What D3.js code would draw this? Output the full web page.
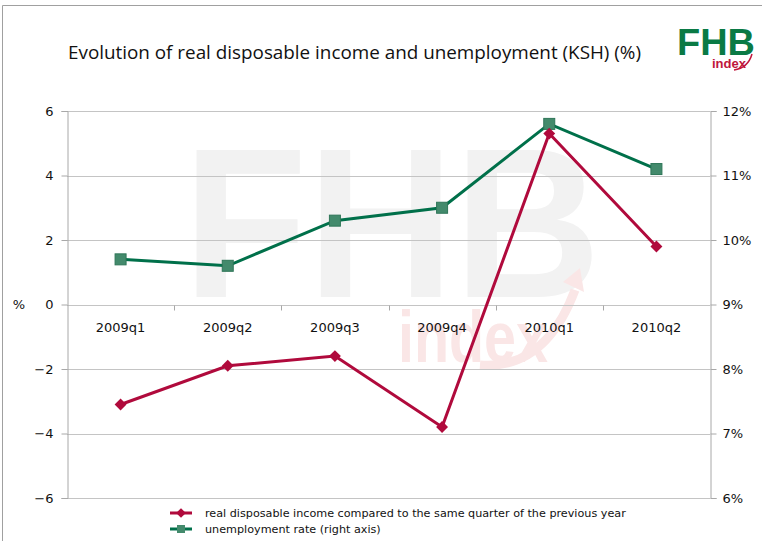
<!DOCTYPE html>
<html>
<head>
<meta charset="utf-8">
<script src="https://cdn.jsdelivr.net/npm/d3@7"></script>
<style>
  body { margin: 0; background: #fff; }
  svg { display: block; }
</style>
</head>
<body>
<svg id="chart" width="762" height="541"></svg>
<script>
// data
const categories = ["2009q1", "2009q2", "2009q3", "2009q4", "2010q1", "2010q2"];
const incomeValues = [-3.1, -1.9, -1.6, -3.8, 5.3, 1.8];        // left axis, %
const unemploymentValues = [9.7, 9.6, 10.3, 10.5, 11.8, 11.1]; // right axis, %
const leftTicks = [-6, -4, -2, 0, 2, 4, 6];
const rightTicks = [6, 7, 8, 9, 10, 11, 12];
const legendLabels = [
  "real disposable income compared to the same quarter of the previous year",
  "unemployment rate (right axis)"
];

const red = "#b00a3c";
const green = "#00704a";
const greenFill = "#438a6c";
const grid = "#c4c4c4";

const svg = d3.select("#chart");
const plotLeft = 67, plotRight = 710, plotTop = 111, plotBottom = 498;

const x = d3.scaleBand().domain(categories).range([plotLeft, plotRight]);
const yL = d3.scaleLinear().domain([-6, 6]).range([plotBottom, plotTop]);
const yR = d3.scaleLinear().domain([6, 12]).range([plotBottom, plotTop]);

// outer frame
svg.append("path")
  .attr("d", "M2.5,541 V5.5 H762")
  .attr("fill", "none").attr("stroke", "#a0a0a0").attr("stroke-width", 1);

// watermark
const wm = svg.append("g");
wm.append("text")
  .attr("x", 392).attr("y", 297)
  .attr("text-anchor", "middle")
  .attr("font-family", "Liberation Sans, Arial, sans-serif")
  .attr("font-weight", "bold")
  .attr("font-size", 214)
  .attr("textLength", 418).attr("lengthAdjust", "spacingAndGlyphs")
  .attr("fill", "#f2f2f2")
  .text("FHB");
wm.append("text")
  .attr("x", 398).attr("y", 362)
  .attr("font-family", "Liberation Sans, Arial, sans-serif")
  .attr("font-weight", "bold")
  .attr("font-size", 72)
  .attr("textLength", 150).attr("lengthAdjust", "spacingAndGlyphs")
  .attr("fill", "#fae6e6")
  .text("index");
wm.append("path")
  .attr("d", "M480,365 Q545,370 575,290")
  .attr("fill", "none").attr("stroke", "#fae6e6").attr("stroke-width", 9);
wm.append("path")
  .attr("d", "M563,282 L580,268 L584,292 Z")
  .attr("fill", "#fae6e6");

// horizontal gridlines
svg.append("g").selectAll("line")
  .data(leftTicks)
  .join("line")
  .attr("x1", plotLeft).attr("x2", plotRight)
  .attr("y1", d => Math.round(yL(d)) + 0.5).attr("y2", d => Math.round(yL(d)) + 0.5)
  .attr("stroke", grid).attr("stroke-width", 1.2);

// left axis
const gL = svg.append("g")
  .attr("transform", `translate(${plotLeft + 0.5},0)`)
  .call(d3.axisLeft(yL).tickValues(leftTicks).tickSize(6).tickPadding(8)
    .tickFormat(d => d < 0 ? "\u2212" + Math.abs(d) : d));
gL.select(".domain").attr("stroke", "#a8a8a8");
gL.selectAll(".tick line").attr("stroke", "#a8a8a8");
gL.selectAll(".tick text").attr("font-family", "DejaVu Sans, Verdana, sans-serif")
  .attr("font-size", 13).attr("fill", "#111");

// right axis
const gR = svg.append("g")
  .attr("transform", `translate(${plotRight + 0.5},0)`)
  .call(d3.axisRight(yR).tickValues(rightTicks).tickSize(6).tickPadding(6)
    .tickFormat(d => d + "%"));
gR.select(".domain").attr("stroke", "#a8a8a8");
gR.selectAll(".tick line").attr("stroke", "#a8a8a8");
gR.selectAll(".tick text").attr("font-family", "DejaVu Sans, Verdana, sans-serif")
  .attr("font-size", 13).attr("fill", "#111");

// category axis at zero
const gX = svg.append("g")
  .attr("transform", `translate(0,${Math.round(yL(0)) + 0.5})`)
  .call(d3.axisBottom(x).tickSize(0).tickPadding(17));
gX.select(".domain").remove();
gX.selectAll(".tick text").attr("font-family", "DejaVu Sans, Verdana, sans-serif")
  .attr("font-size", 13).attr("fill", "#111");
gX.selectAll(".sep")
  .data(categories.slice(1))
  .join("line")
  .attr("class", "sep")
  .attr("x1", d => Math.round(x(d)) + 0.5).attr("x2", d => Math.round(x(d)) + 0.5)
  .attr("y1", 0).attr("y2", 5)
  .attr("stroke", "#a8a8a8");

// "%" axis label
svg.append("text")
  .attr("x", 19).attr("y", yL(0)).attr("dy", "0.35em")
  .attr("text-anchor", "middle")
  .attr("font-family", "DejaVu Sans, Verdana, sans-serif")
  .attr("font-size", 13).attr("fill", "#111")
  .text("%");

const cx = d => x(d) + x.bandwidth() / 2;

// unemployment line
svg.append("path")
  .datum(unemploymentValues)
  .attr("fill", "none").attr("stroke", green).attr("stroke-width", 3)
  .attr("d", d3.line().x((d, i) => cx(categories[i])).y(d => yR(d)));

// income line
svg.append("path")
  .datum(incomeValues)
  .attr("fill", "none").attr("stroke", red).attr("stroke-width", 3)
  .attr("d", d3.line().x((d, i) => cx(categories[i])).y(d => yL(d)));

// unemployment markers
svg.append("g").selectAll("rect")
  .data(unemploymentValues)
  .join("rect")
  .attr("x", (d, i) => cx(categories[i]) - 5.5)
  .attr("y", d => yR(d) - 5.5)
  .attr("width", 11).attr("height", 11)
  .attr("fill", greenFill).attr("stroke", "#2f7658").attr("stroke-width", 1);

// income markers
const diamond = d3.symbol().type(d3.symbolDiamond2).size(90);
svg.append("g").selectAll("path")
  .data(incomeValues)
  .join("path")
  .attr("transform", (d, i) => `translate(${cx(categories[i])},${yL(d)})`)
  .attr("d", diamond)
  .attr("fill", red);

// title
svg.append("text")
  .attr("x", 68).attr("y", 59)
  .attr("font-family", "Liberation Sans Narrow, Open Sans, sans-serif")
  .attr("font-size", 19).attr("fill", "#111")
  .attr("textLength", 573).attr("lengthAdjust", "spacingAndGlyphs")
  .text("Evolution of real disposable income and unemployment (KSH) (%)");

// logo
svg.append("text")
  .attr("x", 677).attr("y", 55)
  .attr("font-family", "Liberation Sans, Arial, sans-serif")
  .attr("font-weight", "bold").attr("font-size", 36)
  .attr("textLength", 78).attr("lengthAdjust", "spacingAndGlyphs")
  .attr("fill", "#0a7a45")
  .text("FHB");
svg.append("text")
  .attr("x", 712).attr("y", 68)
  .attr("font-family", "Liberation Sans, Arial, sans-serif")
  .attr("font-weight", "bold").attr("font-size", 12)
  .attr("textLength", 34).attr("lengthAdjust", "spacingAndGlyphs")
  .attr("fill", "#c0163c")
  .text("index");
svg.append("path")
  .attr("d", "M734,70 Q748,68 752,54")
  .attr("fill", "none").attr("stroke", "#c0163c").attr("stroke-width", 1.5);

// legend
const legend = svg.append("g").attr("transform", "translate(170,513)");
const items = legend.selectAll("g")
  .data(legendLabels)
  .join("g")
  .attr("transform", (d, i) => `translate(0,${i * 16})`);
items.append("line")
  .attr("x1", 0).attr("x2", 22).attr("y1", 0).attr("y2", 0)
  .attr("stroke", (d, i) => i === 0 ? red : green).attr("stroke-width", 3);
items.filter((d, i) => i === 0).append("path")
  .attr("transform", "translate(11,0)")
  .attr("d", d3.symbol().type(d3.symbolDiamond2).size(60))
  .attr("fill", red);
items.filter((d, i) => i === 1).append("rect")
  .attr("x", 7).attr("y", -4).attr("width", 8).attr("height", 8)
  .attr("fill", greenFill);
items.append("text")
  .attr("x", 35).attr("dy", "0.35em")
  .attr("font-family", "DejaVu Sans, Verdana, sans-serif")
  .attr("font-size", 11.2).attr("fill", "#111")
  .text(d => d);
</script>
</body>
</html>
